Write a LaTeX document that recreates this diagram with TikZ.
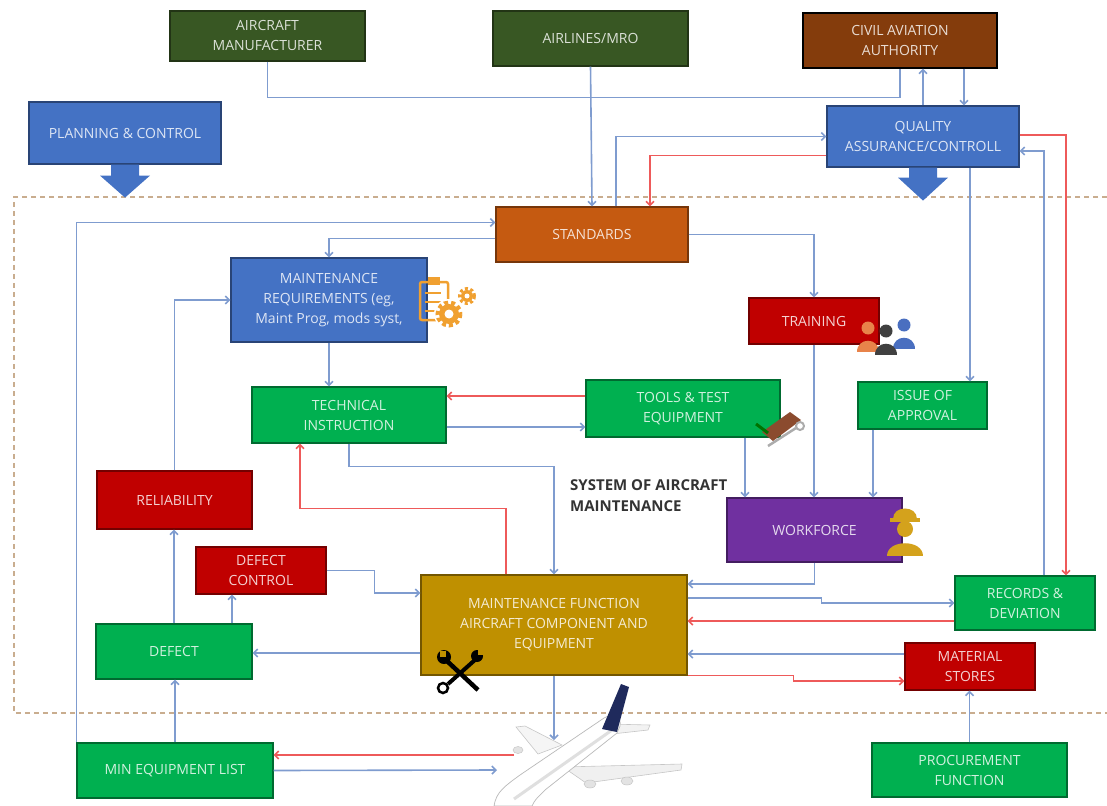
\documentclass[tikz,border=0pt]{standalone}
\usepackage{fontspec}
\setmainfont{Open Sans}
\usetikzlibrary{arrows.meta,positioning}
\definecolor{olivegreen}{HTML}{385723}
\definecolor{caabrown}{HTML}{843C0C}
\definecolor{msblue}{HTML}{4472C4}
\definecolor{stdorange}{HTML}{C55A11}
\definecolor{msred}{HTML}{C00000}
\definecolor{msgreen}{HTML}{00B050}
\definecolor{mspurple}{HTML}{7030A0}
\definecolor{msgold}{HTML}{BF9000}
\definecolor{linkblue}{HTML}{7F9CCF}
\definecolor{linkred}{HTML}{EE5A5A}
\definecolor{frameclr}{HTML}{C9AD8F}
\definecolor{iconorange}{HTML}{F0A030}
\definecolor{toolbrown}{HTML}{8B4B2E}
\definecolor{workergold}{HTML}{D4A21C}
\definecolor{pplorange}{HTML}{E8834A}
\definecolor{pplgrey}{HTML}{404040}
\definecolor{pplblue}{HTML}{4A6FC0}
\definecolor{tailblue}{HTML}{1F2A5C}
\definecolor{titlegrey}{HTML}{333333}

\begin{document}
\begin{tikzpicture}[x=1pt,y=-1pt,>={Straight Barb[length=4pt,width=8pt]},
        box/.style={rectangle,fill=#1,draw=#1!60!black,line width=1.2pt,text=white!82!#1,
            align=center,inner sep=1pt,font=\fontsize{14}{20}\selectfont},
        wh/.style 2 args={minimum width=#1pt,minimum height=#2pt},
        bl/.style={->,draw=linkblue,line width=1.6pt},
        rd/.style={->,draw=linkred,line width=1.6pt},
        frame/.style={draw=frameclr,line width=1.6pt,dash pattern=on 5pt off 4pt}]
    \useasboundingbox (0,0) rectangle (1107,805);

    \draw[frame] (1107,197) -- (14,197) -- (14,713) -- (1107,713);

    \node   [box=olivegreen,wh={195}{50}]            (am)    at (267.5,36)   {AIRCRAFT\\MANUFACTURER};
    \node   [box=olivegreen,wh={195}{55}]            (air)   at (590.5,38.5) {AIRLINES/MRO};
    \node   [box=caabrown,wh={194}{55},draw=black]   (caa)   at (900,40.5)   {CIVIL AVIATION\\AUTHORITY};
    \node   [box=msblue,wh={192}{62}]                (plan)  at (125,133)    {PLANNING \& CONTROL};
    \node   [box=msblue,wh={192}{61}]                (qa)    at (923,136.5)  {QUALITY\\ASSURANCE/CONTROLL};
    \node   [box=stdorange,wh={192}{55}]             (std)   at (592,234.5)  {STANDARDS};
    \node   [box=msblue,wh={196}{84}]                (mr)    at (329,300)    {MAINTENANCE\\REQUIREMENTS (eg,\\Maint Prog, mods syst,};
    \node   [box=msred,wh={130}{46}]                 (trn)   at (814,321)    {TRAINING};
    \node   [box=msgreen,wh={194}{56}]               (ti)    at (349,415)    {TECHNICAL\\INSTRUCTION};
    \node   [box=msgreen,wh={194}{57}]               (tools) at (683,408.5)  {TOOLS \& TEST\\EQUIPMENT};
    \node   [box=msgreen,wh={129}{47}]               (iss)   at (922.5,405.5){ISSUE OF\\APPROVAL};
    \node   [box=msred,wh={155}{58}]                 (rel)   at (174.5,500)  {RELIABILITY};
    \node   [box=mspurple,wh={175}{64}]              (wf)    at (814.5,530)  {WORKFORCE};
    \node   [box=msred,wh={130}{47}]                 (dc)    at (261,570.5)  {DEFECT\\CONTROL};
    \node   [box=msgold,wh={266}{100}]               (mf)    at (554,625)    {MAINTENANCE FUNCTION\\AIRCRAFT COMPONENT AND\\EQUIPMENT};
    \node   [box=msgreen,wh={140}{54}]               (rec)   at (1025,603)   {RECORDS \&\\DEVIATION};
    \node   [box=msgreen,wh={156}{55}]               (def)   at (174,651.5)  {DEFECT};
    \node   [box=msred,wh={130}{47}]                 (mat)   at (970,666.5)  {MATERIAL\\STORES};
    \node   [box=msgreen,wh={196}{55}]               (mel)   at (175,770.5)  {MIN EQUIPMENT LIST};
    \node   [box=msgreen,wh={195}{54}]               (proc)  at (969.5,770)  {PROCUREMENT\\FUNCTION};
    \node   [anchor=west,align=left,inner sep=0pt,text=titlegrey,
             font=\fontsize{15}{21}\selectfont\bfseries] (sys) at (570,496) {SYSTEM OF AIRCRAFT\\MAINTENANCE};

    % block arrows under the two blue boxes
    \fill[msblue] (plan.south) ++(-14,0) -- ++(0,11) -- ++(-11,0) -- ++(25,22) -- ++(25,-22) -- ++(-11,0) -- ++(0,-11) -- cycle;
    \fill[msblue] (qa.south) ++(-14,0) -- ++(0,10) -- ++(-11,0) -- ++(25,23) -- ++(25,-23) -- ++(-11,0) -- ++(0,-10) -- cycle;

    % aircraft
    \fill[gray!12,draw=gray!45,line width=.6pt] (563,767) -- (682,764) -- (681,770) -- (586,783) -- cycle;
    \fill[gray!8,draw=gray!45,line width=.6pt] (538,754) -- (516,727) -- (525,726) -- (562,745) -- cycle;
    \fill[gray!10,draw=gray!45,line width=.6pt] (608,724) -- (650,725) -- (648,730) -- (612,734) -- cycle;
    \fill[white,draw=gray!55,line width=.7pt] (494,806) .. controls (496,792) and (505,786) .. (520,775)
        -- (604,718) .. controls (612,713) and (622,716) .. (620,726) -- (617,733)
        -- (545,790) .. controls (535,800) .. (532,806) -- cycle;
    \draw[gray!25,line width=3pt] (514,799) -- (612,730);
    \fill[tailblue] (602,729) -- (621,684) -- (629,687) -- (617,732) -- cycle;
    \fill[gray!22,draw=gray!45,line width=.5pt] (590,784) ellipse (6 and 4);
    \fill[gray!22,draw=gray!45,line width=.5pt] (627,781) ellipse (6 and 4);
    \fill[gray!22,draw=gray!45,line width=.5pt] (518,750) ellipse (5 and 3.5);
    \coordinate (planetop)  at (554,740);
    \coordinate (planewing) at (514,755);
    \coordinate (planebody) at (497,770);

    \draw[bl,-] (am.south) -- ++(0,36) -| (caa.south);
    \draw[bl] (air.south) -- (std.north);
    \draw[bl] (qa.north) -- (qa.north |- caa.south);
    \draw[bl] ([xshift=64pt]caa.south) -- ([xshift=64pt]caa.south |- qa.north);
    \draw[bl] ([xshift=24pt]std.north) |- (qa.west);
    \draw[rd] ([yshift=-19pt]qa.west) -| ([xshift=58pt]std.north);
    \draw[bl] (mel.north west) |- ([yshift=12pt]std.west);
    \draw[bl] ([yshift=-4pt]std.west) -| (mr.north);
    \draw[bl] (std.east) -| (trn.north);
    \draw[bl] (mr.south) -- (mr.south |- ti.north);
    \draw[bl] (rel.north) |- (mr.west);
    \draw[rd] ([yshift=12.5pt]tools.west) -- ([yshift=19pt]ti.east);
    \draw[bl] ([yshift=-12pt]ti.east) -- ([yshift=-18.5pt]tools.west);
    \draw[bl] (ti.south) -- ++(0,23) -| (mf.north);
    \draw[rd] ([xshift=-48pt]mf.north) -- ++(0,-66) -| ([xshift=-49pt]ti.south);
    \draw[bl] ([xshift=62pt]tools.south) -- ([xshift=62pt]tools.south |- wf.north);
    \draw[bl] (trn.south) -- (trn.south |- wf.north);
    \draw[bl] ([xshift=-49.5pt]iss.south) -- ([xshift=-49.5pt]iss.south |- wf.north);
    \draw[bl] ([xshift=47pt]qa.south) -- ([xshift=47pt]qa.south |- iss.north);
    \draw[bl] ([xshift=19pt]rec.north) |- ([yshift=-14.5pt]qa.east);
    \draw[rd] ([yshift=1.5pt]qa.east) -| ([xshift=41pt]rec.north);
    \draw[bl] (wf.south) |- ([yshift=41pt]mf.east);
    \draw[bl] ([yshift=27pt]mf.east) -- ++(134,0) |- (rec.west);
    \draw[rd] ([yshift=-18pt]rec.west) -- ([yshift=-18pt]rec.west -| mf.east);
    \draw[bl] ([yshift=12.5pt]mat.west) -- ([yshift=12.5pt]mat.west -| mf.east);
    \draw[rd] (mf.south east) -- ++(106,0) |- ([yshift=-14.5pt]mat.west);
    \draw[bl] ([yshift=-28pt]mf.west) -- ([yshift=-28pt]mf.west -| def.east);
    \draw[bl] (dc.east) -- ++(48,0) |- ([yshift=32pt]mf.west);
    \draw[bl] ([xshift=58pt]def.north) -- ([xshift=58pt]def.north |- dc.south);
    \draw[bl] (def.north) -- (def.north |- rel.south);
    \draw[bl] (mel.north) -- (mel.north |- def.south);
    \draw[bl] (proc.north) -- (proc.north |- mat.south);
    \draw[bl] (mf.south) -- (planetop);
    \draw[rd] (planewing) -- (planewing -| mel.east);
    \draw[bl] (mel.east) -- (planebody);

    % clipboard and gears
    \draw[iconorange,line width=2.5pt,rounded corners=2pt] (420,282) rectangle (448,320);
    \fill[iconorange] (428,277) rectangle (440,285);
    \foreach \y in {293,302,311} \draw[iconorange,line width=2pt] (425,\y) -- (441,\y);
    \fill[white] (449,314) circle (15);
    \fill[iconorange] (449,314) circle (10);
    \draw[iconorange,line width=4pt,dash pattern=on 4pt off 3pt] (449,314) circle (11.5);
    \fill[white] (449,314) circle (4.5);
    \fill[iconorange] (467,296) circle (6);
    \draw[iconorange,line width=3pt,dash pattern=on 3pt off 2.5pt] (467,296) circle (7.5);
    \fill[white] (467,296) circle (2.5);

    % people next to training
    \foreach \px/\py/\pc in {868/328/pplorange,904/325/pplblue,886/331/pplgrey} {
        \fill[\pc] (\px,\py) circle (6.5);
        \fill[\pc] (\px-11,\py+24) .. controls (\px-11,\py+9) and (\px+11,\py+9) .. (\px+11,\py+24) -- cycle;
    }

    % tools next to test equipment
    \fill[toolbrown] (762,432) -- (790,412) -- (801,420) -- (773,441) -- cycle;
    \draw[green!45!black,line width=3pt] (756,424) -- (768,433);
    \draw[gray!65,line width=2.5pt] (768,446) -- (796,428);
    \draw[gray!65,line width=2pt] (800,426) circle (4);

    % worker
    \fill[workergold] (905,529) circle (8);
    \fill[workergold] (893,519) .. controls (893,505) and (917,505) .. (917,519) -- cycle;
    \fill[workergold] (890,518) rectangle (920,522);
    \fill[workergold] (887,556) .. controls (887,539) and (923,539) .. (923,556) -- cycle;

    % pliers and spanner
    \draw[black,line width=4pt] (448,684) -- (476,659);
    \draw[black,line width=2.5pt] (443,688) circle (5);
    \fill[black] (477,656) circle (6);
    \fill[msgold] (478,648) rectangle (484,655);
    \draw[black,line width=4.5pt] (447,661) -- (478,690);
    \fill[black] (444,657) circle (7);
    \fill[msgold] (440,651) rectangle (446,657);
\end{tikzpicture}
\end{document}
